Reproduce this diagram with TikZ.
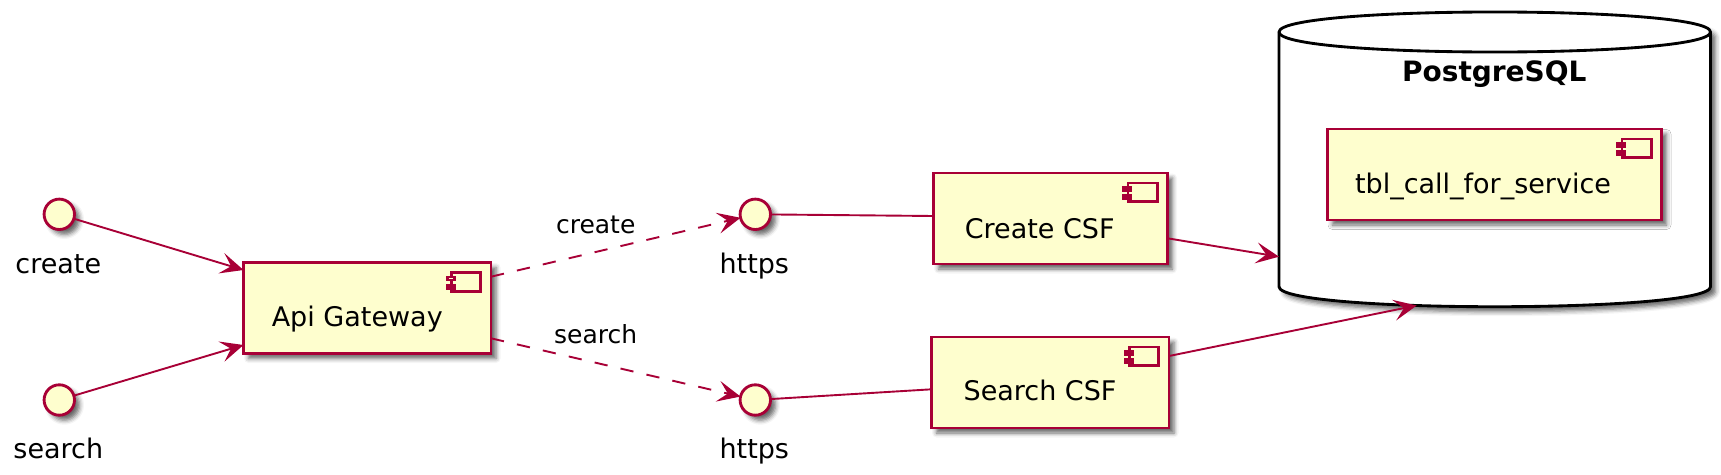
\documentclass[tikz,border=0pt]{standalone}
\usepackage{fontspec}
\setmainfont{DejaVu Sans}
\usetikzlibrary{arrows.meta,calc,shadows.blur}
\definecolor{pborder}{HTML}{A80036}
\definecolor{pfill}{HTML}{FEFECE}
\tikzset{
  shd/.style={blur shadow={shadow xshift=5pt,shadow yshift=-5pt,shadow blur radius=4.5pt,shadow opacity=60}},
  comp/.style={draw=pborder,fill=pfill,line width=2.85pt,inner sep=0pt,outer sep=0pt,minimum height=91pt,shd},
  iface/.style={circle,draw=pborder,fill=pfill,line width=2.85pt,inner sep=0pt,outer sep=0pt,minimum size=30.4pt,shd},
  iconline/.style={draw=pborder,fill=pfill,line width=2.85pt},
  ctext/.style={anchor=base,inner sep=0pt,font=\fontsize{27}{32}\selectfont},
  ltext/.style={anchor=base,inner sep=0pt,font=\fontsize{25}{30}\selectfont},
  btext/.style={anchor=base,inner sep=0pt,font=\fontsize{28}{33}\selectfont\bfseries},
  conn/.style={draw=pborder,line width=1.9pt},
  tipp/.style={-{Stealth[length=23pt,width=21pt,inset=10pt]}},
  dashline/.style={dash pattern=on 13.3pt off 13.3pt},
  dbline/.style={draw=black,line width=2.85pt},
}
\newcommand\mycompicon[1]{%
  \draw[iconline] ($(#1.north east)+(-39.5,10)$) rectangle ($(#1.north east)+(-10.2,28.7)$);
  \draw[iconline] ($(#1.north east)+(-43.8,14.5)$) rectangle ($(#1.north east)+(-36.8,17.5)$);
  \draw[iconline] ($(#1.north east)+(-43.8,22.8)$) rectangle ($(#1.north east)+(-36.8,25.8)$);
}
\begin{document}
\begin{tikzpicture}[x=1pt,y=-1pt]
\useasboundingbox (0,0) rectangle (1721,474);
% database cylinder
\path[dbline,fill=white,shd] (1279,32) .. controls (1279,5.3) and (1710.5,5.3) .. (1710.5,32) -- (1710.5,286.7) .. controls (1710.5,313.4) and (1279,313.4) .. (1279,286.7) -- cycle;
\draw[dbline] (1279,32) .. controls (1279,58.7) and (1710.5,58.7) .. (1710.5,32);
\node[btext] (dbT) at (1494.3,81.7) {PostgreSQL};
\coordinate (dbL) at (1279,256.7);
\coordinate (dbB) at (1416.7,305.5);
% components
\node[comp,minimum width=247.5pt] (api) at (367.25,308) {};
\node[comp,minimum width=234pt] (ccsf) at (1050.5,218.5) {};
\node[comp,minimum width=237.5pt] (scsf) at (1050.25,382.5) {};
\node[comp,minimum width=334pt] (tbl) at (1494.5,174.5) {};
\foreach \b in {api,ccsf,scsf,tbl}{\mycompicon{\b}}
\node[ctext] (apiT) at ($(api.north)+(-10,64.2)$) {Api Gateway};
\node[ctext] (ccsfT) at ($(ccsf.north)+(-10.8,65.3)$) {Create CSF};
\node[ctext] (scsfT) at ($(scsf.north)+(-10.2,63.9)$) {Search CSF};
\node[ctext] (tblT) at ($(tbl.north)+(-11.5,64.3)$) {tbl\_call\_for\_service};
% interfaces
\node[iface] (ifC) at (59.3,214.3) {};
\node[iface] (ifS) at (59.3,400) {};
\node[iface] (hC) at (755.3,214.3) {};
\node[iface] (hS) at (755.3,400) {};
\node[ctext] (ifCT) at ($(ifC)+(-1,58.7)$) {create};
\node[ctext] (ifST) at ($(ifS)+(-1,58)$) {search};
\node[ctext] (hCT) at ($(hC)+(-1,58.7)$) {https};
\node[ctext] (hST) at ($(hS)+(-1,58)$) {https};
% link labels
\node[ltext] (lblC) at (595.7,233.3) {create};
\node[ltext] (lblS) at (595.7,343.3) {search};
% connectors
\draw[conn,tipp] (ifC) -- ($(api.north west)+(0,7.5)$);
\draw[conn,tipp] (ifS) -- ($(api.south west)+(0,-8.5)$);
\draw[conn,dashline,tipp] ($(api.north east)+(0,14.2)$) -- (hC);
\draw[conn,dashline,tipp] ($(api.south east)+(0,-15.2)$) -- (hS);
\draw[conn] (hC) -- ($(ccsf.north west)+(0,43)$);
\draw[conn] (hS) -- ($(scsf.north west)+(0,52.3)$);
\draw[conn,tipp] ($(ccsf.north east)+(0,65.3)$) -- (dbL);
\draw[conn,tipp] ($(scsf.north east)+(0,19)$) -- (dbB);
\end{tikzpicture}
\end{document}
